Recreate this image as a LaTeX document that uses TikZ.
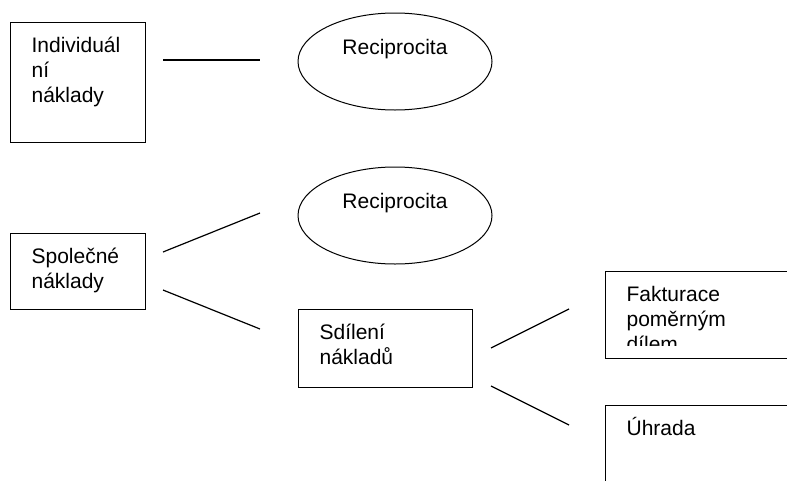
\documentclass[tikz,border=0pt]{standalone}
\usepackage{fontspec}
\setmainfont{Liberation Sans}
\usetikzlibrary{positioning,shapes,arrows}

\begin{document}
\begin{tikzpicture}[x=1pt,y=-1pt,
	box/.style={draw,rectangle,line width=1.2pt,anchor=north west,align=left,
		inner xsep=21pt,inner ysep=0pt,text height=30pt,
		font=\fontsize{21}{25}\selectfont},
	oval/.style={draw,ellipse,line width=1pt,minimum width=194pt,minimum height=97pt,
		text height=15pt,text depth=29pt,font=\fontsize{21}{25}\selectfont},
	conn/.style={line width=1.2pt}]
\clip (0,0) rectangle (787,480);
\node [box,text width=93pt,text depth=90pt] (ind) at (10,22) {Individuál\\ní\\náklady};
\node [box,text width=93pt,text depth=46pt] (spol) at (10,233) {Společné\\náklady};
\node [oval] (rec1) at (395,61.5) {Reciprocita};
\node [oval] (rec2) at (395,215.5) {Reciprocita};
\node [box,text width=132pt,text depth=48pt] (sdil) at (298,309) {Sdílení\\nákladů};
\node [box,text width=160pt,text depth=57pt] (fakt) at (605,271) {};
\begin{scope}
	\clip (fakt.north west) rectangle (787,345);
	\node [box,draw=none,text width=160pt] (fakttxt) at (605,271) {Fakturace\\poměrným\\dílem};
\end{scope}
\node [box,text width=160pt,text depth=100pt] (uhr) at (605,405) {Úhrada};
% free ends of the connectors
\coordinate (l1a) at (163,60);  \coordinate (l1b) at (260,60);
\coordinate (l2a) at (163,252); \coordinate (l2b) at (260,213);
\coordinate (l3a) at (163,290); \coordinate (l3b) at (260,329);
\coordinate (l4a) at (491,348); \coordinate (l4b) at (569,309);
\coordinate (l5a) at (491,386); \coordinate (l5b) at (569,425);
\path (l1a) edge[conn] (l1b)
(l2a) edge[conn] (l2b)
(l3a) edge[conn] (l3b)
(l4a) edge[conn] (l4b)
(l5a) edge[conn] (l5b);
\end{tikzpicture}
\end{document}
